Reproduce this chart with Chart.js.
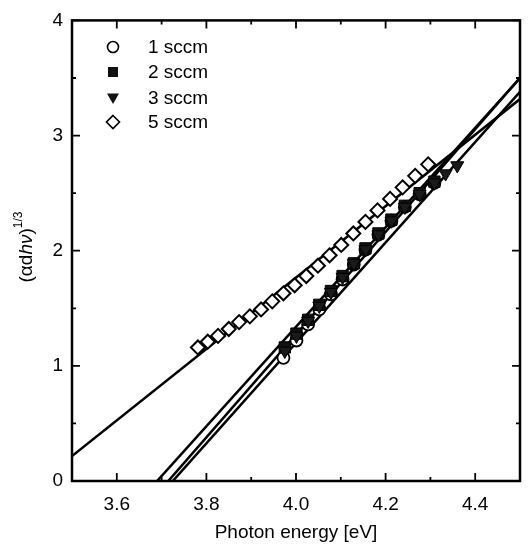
<!DOCTYPE html>
<html lang="en">
<head>
<meta charset="UTF-8">
<title>Tauc plot</title>
<script src="https://cdn.jsdelivr.net/npm/chart.js@4.4.0/dist/chart.umd.min.js"></script>
<style>
  html, body { margin: 0; padding: 0; background: #fff; }
  #caixa { width: 529px; height: 554px; }
</style>
</head>
<body>
<div id="caixa"><canvas id="grafico" width="529" height="554"></canvas></div>
<script>
    // nomes das series (fluxo)
    const series = ['1 sccm', '2 sccm', '3 sccm', '5 sccm'];

    // energia do foton [eV] e (a d h v)^(1/3)
    const energia1 = [3.972, 4.001, 4.027, 4.052, 4.078, 4.104, 4.129, 4.155, 4.184, 4.213, 4.243, 4.276, 4.309];
    const valor1   = [1.07, 1.22, 1.36, 1.49, 1.62, 1.75, 1.88, 2.01, 2.14, 2.26, 2.38, 2.49, 2.59];

    const energia2 = [3.975, 4.001, 4.027, 4.052, 4.078, 4.104, 4.129, 4.155, 4.184, 4.213, 4.243, 4.276, 4.309];
    const valor2   = [1.16, 1.28, 1.40, 1.53, 1.65, 1.78, 1.89, 2.02, 2.15, 2.27, 2.39, 2.50, 2.60];

    const energia3 = [3.975, 4.001, 4.027, 4.052, 4.078, 4.104, 4.129, 4.155, 4.184, 4.213, 4.243, 4.276, 4.309, 4.334, 4.360];
    const valor3   = [1.13, 1.26, 1.39, 1.52, 1.64, 1.77, 1.89, 2.01, 2.14, 2.26, 2.38, 2.49, 2.59, 2.67, 2.74];

    const energia5 = [3.781, 3.803, 3.826, 3.850, 3.873, 3.897, 3.922, 3.947, 3.972, 3.997, 4.023, 4.049, 4.075, 4.101, 4.128, 4.155, 4.182, 4.210, 4.238, 4.266, 4.295];
    const valor5   = [1.16, 1.21, 1.26, 1.32, 1.38, 1.43, 1.49, 1.56, 1.63, 1.70, 1.78, 1.87, 1.96, 2.05, 2.15, 2.25, 2.35, 2.45, 2.55, 2.65, 2.75];

    // retas ajustadas: gap optico (corte no eixo x) e inclinacao
    const gapAjuste = [3.725, 3.690, 3.715, 3.430];
    const inclinacao = [4.36, 4.32, 4.46, 3.10];

    // ticks
    const ticksX = [3.6, 3.8, 4.0, 4.2, 4.4];
    const ticksY = [0, 1, 2, 3, 4];
    const menoresX = [3.5, 3.7, 3.9, 4.1, 4.3, 4.5];
    const menoresY = [0.5, 1.5, 2.5, 3.5];

    const xMin = 3.5, xMax = 4.5;
    const fonte = "'Liberation Sans', Arial, sans-serif";

    function pontos(xs, ys) {
        return xs.map((v, i) => ({ x: v, y: ys[i] }));
    }

    function reta(i) {
        return [xMin, xMax].map(e => ({ x: e, y: inclinacao[i] * (e - gapAjuste[i]) }));
    }

    const estilos = [
        { pointStyle: 'circle', pointRadius: 6, pointBackgroundColor: '#fff', pointBorderColor: '#000', pointBorderWidth: 1.8, order: 5 },
        { pointStyle: 'rect', pointRadius: 8, pointBackgroundColor: '#111', pointBorderColor: '#000', pointBorderWidth: 1, order: 4 },
        { pointStyle: 'triangle', rotation: 180, pointRadius: 7.5, pointBackgroundColor: '#1a1a1a', pointBorderColor: '#000', pointBorderWidth: 1, order: 3 },
        { pointStyle: 'rectRot', pointRadius: 7, pointBackgroundColor: '#fff', pointBorderColor: '#000', pointBorderWidth: 2, order: 2 }
    ];
    const dados = [pontos(energia1, valor1), pontos(energia2, valor2), pontos(energia3, valor3), pontos(energia5, valor5)];

    const conjuntos = [];
    for (let i = 0; i < 4; i++) {
        conjuntos.push({
            label: 'ajuste ' + series[i],
            data: reta(i),
            showLine: true,
            borderColor: '#000',
            borderWidth: 2.5,
            pointRadius: 0,
            order: 10
        });
    }
    for (let i = 0; i < 4; i++) {
        conjuntos.push(Object.assign({ label: series[i], data: dados[i], showLine: false }, estilos[i]));
    }

    // moldura, ticks para dentro, legenda e titulo do eixo y
    const moldura = {
        id: 'moldura',
        afterDatasetsDraw(chart) {
            const { ctx, chartArea: a, scales } = chart;
            const sx = scales.x, sy = scales.y;
            ctx.save();
            ctx.strokeStyle = '#000';
            ctx.lineWidth = 2.5;
            ctx.strokeRect(a.left, a.top, a.right - a.left, a.bottom - a.top);

            ctx.lineWidth = 1.8;
            ctx.beginPath();
            const tickX = (v, t) => {
                const p = sx.getPixelForValue(v);
                ctx.moveTo(p, a.bottom); ctx.lineTo(p, a.bottom - t);
                ctx.moveTo(p, a.top); ctx.lineTo(p, a.top + t);
            };
            const tickY = (v, t) => {
                const p = sy.getPixelForValue(v);
                ctx.moveTo(a.left, p); ctx.lineTo(a.left + t, p);
                ctx.moveTo(a.right, p); ctx.lineTo(a.right - t, p);
            };
            ticksX.forEach(v => tickX(v, 8));
            menoresX.forEach(v => tickX(v, 4));
            ticksY.forEach(v => tickY(v, 8));
            menoresY.forEach(v => tickY(v, 4));
            ctx.stroke();

            // legenda
            const lx = 113, ly = [47, 72, 98, 122];
            ctx.lineWidth = 1.6;
            ly.forEach((yy, i) => {
                ctx.beginPath();
                if (i === 0) {
                    ctx.arc(lx, yy, 5.5, 0, Math.PI * 2);
                    ctx.fillStyle = '#fff'; ctx.fill(); ctx.stroke();
                } else if (i === 1) {
                    ctx.fillStyle = '#111';
                    ctx.fillRect(lx - 5, yy - 5, 10, 10);
                } else if (i === 2) {
                    ctx.moveTo(lx - 6, yy - 4.5); ctx.lineTo(lx + 6, yy - 4.5); ctx.lineTo(lx, yy + 6);
                    ctx.closePath();
                    ctx.fillStyle = '#111'; ctx.fill();
                } else {
                    ctx.moveTo(lx, yy - 6.5); ctx.lineTo(lx + 6.5, yy); ctx.lineTo(lx, yy + 6.5); ctx.lineTo(lx - 6.5, yy);
                    ctx.closePath();
                    ctx.fillStyle = '#fff'; ctx.fill(); ctx.stroke();
                }
                ctx.fillStyle = '#000';
                ctx.font = '19px ' + fonte;
                ctx.textBaseline = 'middle';
                ctx.textAlign = 'left';
                ctx.fillText(series[i], 148, yy + 1);
            });

            // titulo do eixo y: (αdhν)^1/3
            const partes = [
                { t: '(\u03b1d', f: '19px ' + fonte, dy: 0 },
                { t: 'h\u03bd', f: 'italic 19px ' + fonte, dy: 0 },
                { t: ')', f: '19px ' + fonte, dy: 0 },
                { t: '1/3', f: '12px ' + fonte, dy: -8 }
            ];
            let total = 0;
            partes.forEach(p => { ctx.font = p.f; p.w = ctx.measureText(p.t).width; total += p.w; });
            ctx.translate(27, 247);
            ctx.rotate(-Math.PI / 2);
            ctx.textBaseline = 'middle';
            let px = -total / 2;
            partes.forEach(p => {
                ctx.font = p.f;
                ctx.fillText(p.t, px, p.dy);
                px += p.w;
            });
            ctx.restore();
        }
    };

    const ctx = document.getElementById('grafico').getContext('2d');
    const grafico = new Chart(ctx, {
        type: 'scatter',
        data: { datasets: conjuntos },
        options: {
            responsive: false,
            animation: false,
            layout: { padding: { left: 0, top: 13, right: 2, bottom: 0 } },
            plugins: {
                legend: { display: false },
                tooltip: { enabled: false }
            },
            scales: {
                x: {
                    type: 'linear',
                    min: xMin,
                    max: xMax,
                    afterBuildTicks: s => { s.ticks = ticksX.map(v => ({ value: v })); },
                    afterFit: s => { s.height = 73; },
                    grid: { display: false, drawTicks: false },
                    border: { display: false },
                    ticks: {
                        color: '#000',
                        padding: 12,
                        maxRotation: 0,
                        font: { family: fonte, size: 19 },
                        callback: v => Number(v).toFixed(1)
                    },
                    title: {
                        display: true,
                        text: 'Photon energy [eV]',
                        color: '#000',
                        font: { family: fonte, size: 19 },
                        padding: { top: 0, bottom: 10 }
                    }
                },
                y: {
                    type: 'linear',
                    min: 0,
                    max: 4,
                    afterBuildTicks: s => { s.ticks = ticksY.map(v => ({ value: v })); },
                    afterFit: s => { s.width = 72; },
                    grid: { display: false, drawTicks: false },
                    border: { display: false },
                    ticks: {
                        color: '#000',
                        padding: 9,
                        font: { family: fonte, size: 19 },
                        callback: v => String(v)
                    }
                }
            }
        },
        plugins: [moldura]
    });
</script>
</body>
</html>
